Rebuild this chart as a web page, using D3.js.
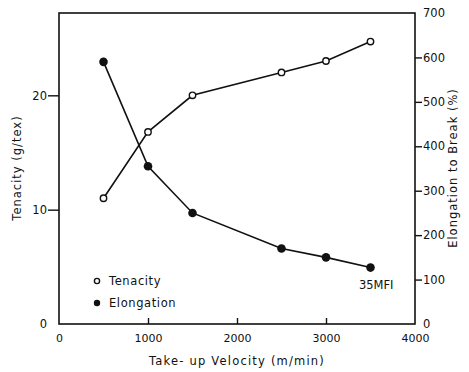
<!DOCTYPE html>
<html>
<head>
<meta charset="utf-8">
<script src="https://cdn.jsdelivr.net/npm/d3@7"></script>
<style>
  body { margin: 0; background: #fff; }
  text { font-family: "DejaVu Sans", sans-serif; fill: #111; }
</style>
</head>
<body>
<script>
// take-up velocity (m/min)
var velocity = [500, 1000, 1500, 2500, 3000, 3500];
// tenacity, g/tex (left axis)
var tenacity = [11, 16.8, 20, 22, 23, 24.7];
// elongation to break, % (right axis)
var elongation = [590, 355, 250, 170, 150, 127];

var xTicks = [0, 1000, 2000, 3000, 4000];
var leftTicks = [0, 10, 20];
var rightTicks = [0, 100, 200, 300, 400, 500, 600, 700];

var width = 469, height = 372;
var margin = {top: 13, right: 54, bottom: 48, left: 59};
var w = width - margin.left - margin.right,
    h = height - margin.top - margin.bottom;

var svg = d3.select("body").append("svg")
    .attr("width", width)
    .attr("height", height);

var g = svg.append("g")
    .attr("transform", "translate(" + margin.left + "," + margin.top + ")");

var x = d3.scaleLinear().domain([0, 4000]).range([0, w]);
var yL = d3.scaleLinear().domain([0, 27.2]).range([h, 0]);
var yR = d3.scaleLinear().domain([0, 700]).range([h, 0]);

// frame
g.append("rect")
    .attr("width", w).attr("height", h)
    .attr("fill", "none").attr("stroke", "#111").attr("stroke-width", 1.6);

// bottom axis: small ticks pointing inward
var xAxis = g.append("g")
    .attr("transform", "translate(0," + h + ")")
    .call(d3.axisBottom(x).tickValues(xTicks).tickFormat(d3.format("d"))
      .tickSizeInner(-6).tickSizeOuter(0).tickPadding(10));
xAxis.select(".domain").remove();
xAxis.selectAll("line").attr("stroke", "#111").attr("stroke-width", 1.4);
xAxis.selectAll("text").attr("font-size", 11);
xAxis.selectAll(".tick").filter(function(d) { return d == 0 || d == 4000; }).select("line").remove();

// left axis: ticks outward
var leftAxis = g.append("g")
    .call(d3.axisLeft(yL).tickValues(leftTicks).tickSizeInner(11).tickSizeOuter(0).tickPadding(1));
leftAxis.select(".domain").remove();
leftAxis.selectAll("line").attr("stroke", "#111").attr("stroke-width", 1.4);
leftAxis.selectAll("text").attr("font-size", 11.5);
leftAxis.selectAll(".tick").filter(function(d) { return d == 0; }).select("line").remove();

// right axis: ticks outward
var rightAxis = g.append("g")
    .attr("transform", "translate(" + w + ",0)")
    .call(d3.axisRight(yR).tickValues(rightTicks).tickSizeInner(7).tickSizeOuter(0).tickPadding(1));
rightAxis.select(".domain").remove();
rightAxis.selectAll("line").attr("stroke", "#111").attr("stroke-width", 1.4);
rightAxis.selectAll("text").attr("font-size", 11.5);
rightAxis.selectAll(".tick").filter(function(d) { return d == 0 || d == 700; }).select("line").remove();

// lines
var tenLine = d3.line()
    .x(function(d, i) { return x(velocity[i]); })
    .y(function(d) { return yL(d); });
var elLine = d3.line()
    .x(function(d, i) { return x(velocity[i]); })
    .y(function(d) { return yR(d); });

g.append("path").datum(tenacity)
    .attr("d", tenLine).attr("fill", "none")
    .attr("stroke", "#111").attr("stroke-width", 1.6);
g.append("path").datum(elongation)
    .attr("d", elLine).attr("fill", "none")
    .attr("stroke", "#111").attr("stroke-width", 1.6);

g.selectAll(".ten").data(tenacity).enter().append("circle")
    .attr("class", "ten")
    .attr("cx", function(d, i) { return x(velocity[i]); })
    .attr("cy", function(d) { return yL(d); })
    .attr("r", 3.2)
    .attr("fill", "#fff").attr("stroke", "#111").attr("stroke-width", 1.4);

g.selectAll(".el").data(elongation).enter().append("circle")
    .attr("class", "el")
    .attr("cx", function(d, i) { return x(velocity[i]); })
    .attr("cy", function(d) { return yR(d); })
    .attr("r", 4.3)
    .attr("fill", "#111");

// sample label, sits just below the last elongation point
g.append("text")
    .attr("x", x(3500) + 23).attr("y", yR(elongation[5]) + 21)
    .attr("text-anchor", "end")
    .attr("font-size", 11.5)
    .text("35MFI");

// legend
var legend = g.append("g").attr("transform", "translate(38,268)");
legend.append("circle").attr("cx", 0).attr("cy", 0).attr("r", 2.6)
    .attr("fill", "#fff").attr("stroke", "#111").attr("stroke-width", 1.4);
legend.append("text").attr("x", 12).attr("y", 4).attr("font-size", 11.5)
    .attr("letter-spacing", 0.6).text("Tenacity");
legend.append("circle").attr("cx", 0).attr("cy", 22).attr("r", 3.2).attr("fill", "#111");
legend.append("text").attr("x", 12).attr("y", 26).attr("font-size", 11.5)
    .attr("letter-spacing", 0.6).text("Elongation");

// axis titles
svg.append("text")
    .attr("transform", "translate(" + (margin.left + w / 2) + ",365)")
    .attr("text-anchor", "middle").attr("font-size", 11.5)
    .attr("letter-spacing", 1.2)
    .text("Take- up  Velocity  (m/min)");

svg.append("text")
    .attr("transform", "translate(21,168) rotate(-90)")
    .attr("text-anchor", "middle").attr("font-size", 11.5)
    .attr("letter-spacing", 1)
    .text("Tenacity  (g/tex)");

svg.append("text")
    .attr("transform", "translate(457,168) rotate(-90)")
    .attr("text-anchor", "middle").attr("font-size", 11.5)
    .attr("letter-spacing", 1)
    .text("Elongation  to  Break  (%)");
</script>
</body>
</html>
